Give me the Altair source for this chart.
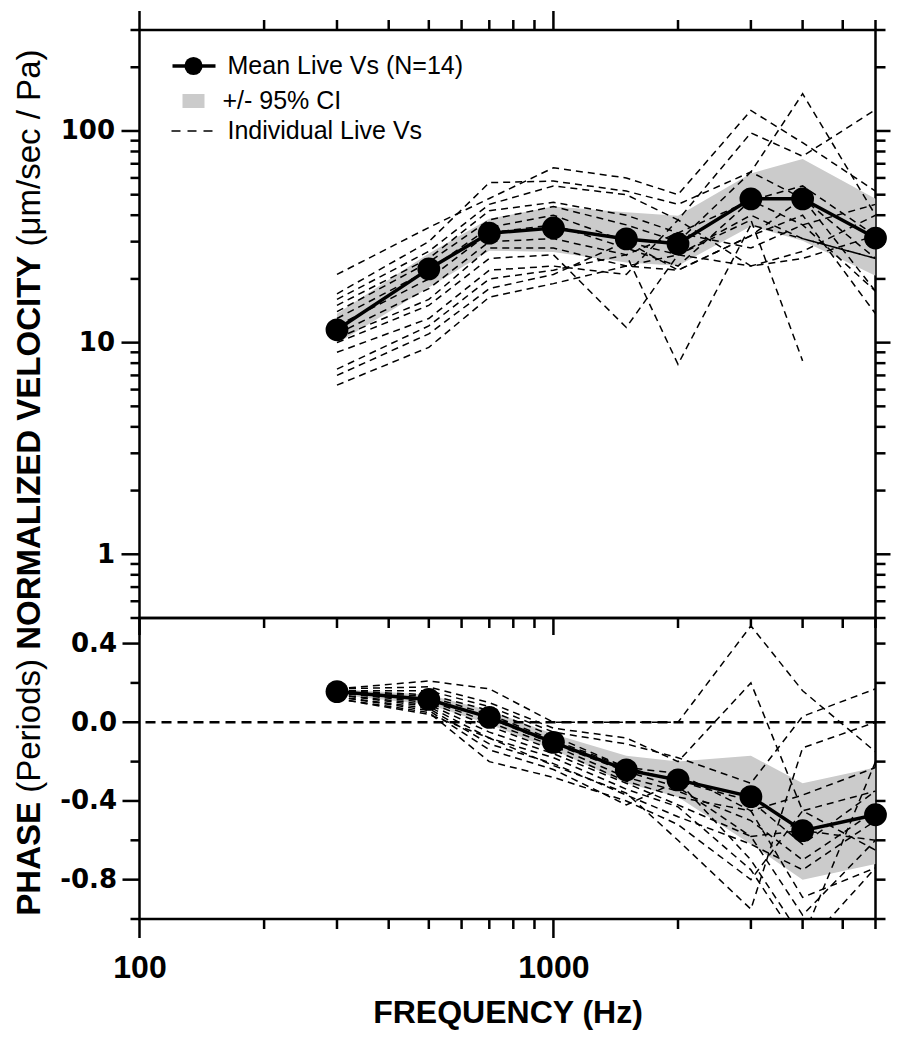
import altair as alt
import pandas as pd

# ---------------- data ----------------
freqs = [300, 500, 700, 1000, 1500, 2000, 3000, 4000, 6000]

mean_vel = [11.5, 22.3, 32.9, 34.8, 30.9, 29.3, 47.8, 47.8, 31.2]
ci_vel_lo = [9.9, 18.2, 27.2, 26.8, 23.9, 23.1, 35.5, 30.3, 20.7]
ci_vel_hi = [13.7, 26.4, 38.5, 44.0, 41.3, 39.8, 63.0, 73.8, 47.8]

mean_phase = [0.156, 0.116, 0.025, -0.102, -0.242, -0.293, -0.378, -0.551, -0.470]
ci_phase_lo = [0.14, 0.09, -0.01, -0.14, -0.31, -0.38, -0.62, -0.80, -0.72]
ci_phase_hi = [0.17, 0.14, 0.06, -0.06, -0.17, -0.20, -0.17, -0.31, -0.23]

indiv_vel = [
    [21, 35, 48, 67, 60, 50, 125, 88, 52],
    [17, 30, 57, 58, 52, 45, 64, 150, 40],
    [16, 27, 45, 55, 50, 38, 98, 76, 126],
    [15, 25, 42, 46, 40, 33, 47, 55, 32],
    [14, 24, 38, 44, 36, 30, 64, 48, 25],
    [13, 22, 35, 40, 30, 26, 38, 8.2, None],
    [12, 20, 33, 36, 28, 23, 47, 36, 17.5],
    [11, 18, 30, 31, 26, 7.9, 36, 31, 25],
    [10.5, 16, 28, 28, 23, 22, 32, 40, 13.7],
    [10, 15, 25, 26, 11.8, 26, 23, 27, 40],
    [9, 13, 22, 23, 21, 38, 23, 25, 32],
    [7.5, 12, 20, 22, 26, 33, 28, 36, 45],
    [7, 11, 18, 21, 30, 22, 32, 48, 17.5],
    [6.3, 9.5, 16.4, 19, 23, 26, 40, 31, 25],
]

indiv_phase = [
    [0.17, 0.21, 0.17, 0.00, 0.00, 0.00, 0.49, 0.16, -0.15],
    [0.17, 0.18, 0.10, -0.03, -0.08, -0.20, 0.20, -0.45, -0.35],
    [0.16, 0.16, 0.08, -0.05, -0.11, -0.18, -0.31, 0.03, 0.17],
    [0.16, 0.14, 0.06, -0.07, -0.23, -0.26, -0.45, -0.37, -0.23],
    [0.16, 0.13, 0.04, -0.09, -0.23, -0.30, -0.40, -0.62, -0.35],
    [0.15, 0.12, 0.02, -0.11, -0.25, -0.33, -0.58, -0.55, -0.60],
    [0.15, 0.11, 0.00, -0.12, -0.28, -0.35, -0.50, -0.70, -0.45],
    [0.15, 0.10, -0.02, -0.14, -0.30, -0.38, -0.45, -0.89, -0.74],
    [0.14, 0.09, -0.05, -0.16, -0.31, -0.42, -0.58, -0.98, -0.60],
    [0.14, 0.08, -0.08, -0.18, -0.34, -0.43, -0.75, -1.15, -0.74],
    [0.13, 0.07, -0.11, -0.21, -0.37, -0.48, -0.62, -0.75, -0.50],
    [0.13, 0.06, -0.14, -0.24, -0.42, -0.30, -0.70, -1.10, -0.20],
    [0.12, 0.05, -0.20, -0.28, -0.40, -0.52, -0.80, -0.45, -0.65],
    [0.12, 0.04, -0.08, -0.22, -0.36, -0.60, -0.95, -0.13, 0.00],
]

# tick values
x_major = [100, 1000]
x_minor = [200, 300, 400, 500, 600, 700, 800, 900, 2000, 3000, 4000, 5000, 6000]
vel_major = [1, 10, 100]
vel_minor = [0.5, 0.6, 0.7, 0.8, 0.9, 2, 3, 4, 5, 6, 7, 8, 9,
             20, 30, 40, 50, 60, 70, 80, 90, 200, 300]
phase_major = [0.4, 0.0, -0.4, -0.8]
phase_minor = [0.2, -0.2, -0.6, -1.0]
phase_all = [0.4, 0.2, 0.0, -0.2, -0.4, -0.6, -0.8, -1.0]

legend_labels = ["Mean Live Vs (N=14)", "+/- 95% CI", "Individual Live Vs"]
ytitle_parts = ["PHASE", "(Periods)", "NORMALIZED VELOCITY", "(\u03bcm/sec / Pa)"]

# ---------------- tables ----------------
df_mean = pd.DataFrame({
    "f": freqs, "vel": mean_vel, "vlo": ci_vel_lo, "vhi": ci_vel_hi,
    "ph": mean_phase, "plo": ci_phase_lo, "phi": ci_phase_hi,
})
rows_v, rows_p = [], []
for i, series in enumerate(indiv_vel):
    for f, v in zip(freqs, series):
        if v is not None:
            rows_v.append({"id": i, "f": f, "v": v})
for i, series in enumerate(indiv_phase):
    for f, v in zip(freqs, series):
        if v is not None:
            rows_p.append({"id": i, "f": f, "v": v})
df_iv = pd.DataFrame(rows_v)
df_ip = pd.DataFrame(rows_p)

# ---------------- style ----------------
W, H1, H2 = 736, 588, 301
SANS = "Liberation Sans, Arial, sans-serif"
WIDE = "DejaVu Sans, sans-serif"
GREY = "#cbcbcb"
TW = 2.5
DASH = [7, 5]

xs = alt.Scale(type="log", domain=[100, 6000], nice=False)
ys1 = alt.Scale(type="log", domain=[0.5, 300], nice=False)
ys2 = alt.Scale(domain=[-1.0, 0.53], nice=False, zero=False)

ax_y1 = alt.Axis(values=vel_major, labelExpr="format(datum.value, 'd')", ticks=False,
                 tickSize=0, domain=False, grid=False, title=None, labelFont=WIDE,
                 labelFontWeight="bold", labelFontSize=26, labelPadding=25,
                 labelColor="black")
ax_y2 = alt.Axis(values=phase_major,
                 labelExpr="replace(format(datum.value, '.1f'), '\u2212', '-')",
                 ticks=False, tickSize=0, domain=False, grid=False, title=None,
                 labelFont=WIDE, labelFontWeight="bold", labelFontSize=26,
                 labelPadding=23, labelColor="black")
ax_x2 = alt.Axis(values=x_major, format="d", ticks=False, tickSize=0, domain=False,
                 grid=False, title="FREQUENCY (Hz)", labelFont=SANS,
                 labelFontWeight="bold", labelFontSize=32, labelPadding=33,
                 labelFlush=False, labelColor="black", titleFont=SANS,
                 titleFontWeight="bold", titleFontSize=32, titlePadding=14,
                 titleColor="black")


def xticks(vals, y0, y1, axis):
    return alt.Chart(pd.DataFrame({"f": vals})).mark_rule(
        color="black", strokeWidth=TW).encode(
        x=alt.X("f:Q", scale=xs, axis=axis), y=alt.value(y0), y2=alt.value(y1))


def yticks(vals, scale, axis, x0, x1):
    return alt.Chart(pd.DataFrame({"t": vals})).mark_rule(
        color="black", strokeWidth=TW).encode(
        y=alt.Y("t:Q", scale=scale, axis=axis), x=alt.value(x0), x2=alt.value(x1))


def one(txt):
    return pd.DataFrame({"t": [txt]})


# ---------------- top panel ----------------
X1 = alt.X("f:Q", scale=xs, axis=None)

band1 = alt.Chart(df_mean).mark_area(color=GREY, clip=True).encode(
    x=X1, y=alt.Y("vlo:Q", scale=ys1, axis=ax_y1), y2="vhi:Q")
ind1 = alt.Chart(df_iv).mark_line(color="black", strokeWidth=1.5, strokeDash=DASH,
                                  clip=True).encode(
    x=X1, y=alt.Y("v:Q", scale=ys1, axis=ax_y1), detail="id:N")
mline1 = alt.Chart(df_mean).mark_line(color="black", strokeWidth=3.5).encode(
    x=X1, y=alt.Y("vel:Q", scale=ys1, axis=ax_y1))
mpts1 = alt.Chart(df_mean).mark_circle(color="black", size=520, opacity=1).encode(
    x=X1, y=alt.Y("vel:Q", scale=ys1, axis=ax_y1))

ticks1 = [
    xticks(x_minor, 0, -10, None), xticks(x_major, 0, -19, None),
    xticks(x_minor, H1, H1 + 10, None), xticks(x_major, H1, H1 + 17, None),
    yticks(vel_minor, ys1, ax_y1, 0, -9), yticks(vel_major, ys1, ax_y1, 0, -18),
    yticks(vel_minor, ys1, ax_y1, W, W + 10), yticks(vel_major, ys1, ax_y1, W, W + 15),
]

# legend (drawn inside the top panel)
leg = [
    alt.Chart(one("a")).mark_rule(color="black", strokeWidth=3.5).encode(
        x=alt.value(33), x2=alt.value(76), y=alt.value(36)),
    alt.Chart(one("a")).mark_circle(color="black", size=330, opacity=1).encode(
        x=alt.value(54), y=alt.value(36)),
    alt.Chart(one("a")).mark_rect(color=GREY).encode(
        x=alt.value(43), x2=alt.value(65), y=alt.value(64), y2=alt.value(78)),
    alt.Chart(one("a")).mark_rule(color="black", strokeWidth=1.6, strokeDash=[9, 7]).encode(
        x=alt.value(32), x2=alt.value(73), y=alt.value(101)),
]
for lbl, lx, ly in zip(legend_labels, [88, 83, 88], [36, 71, 101]):
    leg.append(alt.Chart(one(lbl)).mark_text(
        align="left", baseline="middle", font=SANS,
        fontSize=25, color="black").encode(text="t:N", x=alt.value(lx), y=alt.value(ly)))

# rotated y title (bold / regular segments), positions from Arial-metric widths
ytitle = []
for part, yy, wt in zip(ytitle_parts, [885.7, 762.8, 619.8, 216.4],
                        ["bold", "normal", "bold", "normal"]):
    ytitle.append(alt.Chart(one(part)).mark_text(
        angle=270, align="left", baseline="middle", font=SANS, fontSize=33,
        fontWeight=wt, color="black").encode(text="t:N", x=alt.value(-110),
                                             y=alt.value(yy)))

top = alt.layer(band1, ind1, mline1, mpts1, *ticks1, *leg, *ytitle).properties(
    width=W, height=H1)

# ---------------- bottom panel ----------------
X2 = alt.X("f:Q", scale=xs, axis=ax_x2)

band2 = alt.Chart(df_mean).mark_area(color=GREY, clip=True).encode(
    x=X2, y=alt.Y("plo:Q", scale=ys2, axis=ax_y2), y2="phi:Q")
zero2 = alt.Chart(pd.DataFrame({"z": [0.0]})).mark_rule(
    color="black", strokeWidth=2.3, strokeDash=[10, 6]).encode(
    y=alt.Y("z:Q", scale=ys2, axis=ax_y2))
ind2 = alt.Chart(df_ip).mark_line(color="black", strokeWidth=1.5, strokeDash=DASH,
                                  clip=True).encode(
    x=X2, y=alt.Y("v:Q", scale=ys2, axis=ax_y2), detail="id:N")
mline2 = alt.Chart(df_mean).mark_line(color="black", strokeWidth=3.5).encode(
    x=X2, y=alt.Y("ph:Q", scale=ys2, axis=ax_y2))
mpts2 = alt.Chart(df_mean).mark_circle(color="black", size=520, opacity=1).encode(
    x=X2, y=alt.Y("ph:Q", scale=ys2, axis=ax_y2))

ticks2 = [
    xticks(x_minor, H2, H2 + 10, ax_x2), xticks(x_major, H2, H2 + 19, ax_x2),
    yticks(phase_minor, ys2, ax_y2, 0, -9), yticks(phase_major, ys2, ax_y2, 0, -17),
    yticks(phase_all, ys2, ax_y2, W, W + 10),
]

bottom = alt.layer(band2, zero2, ind2, mline2, mpts2, *ticks2).properties(
    width=W, height=H2)

chart = alt.vconcat(top, bottom, spacing=0, bounds="flush").properties(
    padding={"left": 3.5, "top": 0, "right": 0, "bottom": 0},
    background="white",
).configure_view(stroke="black", strokeWidth=TW)

chart.save("out.html", embed_options={"renderer": "svg", "actions": False})
